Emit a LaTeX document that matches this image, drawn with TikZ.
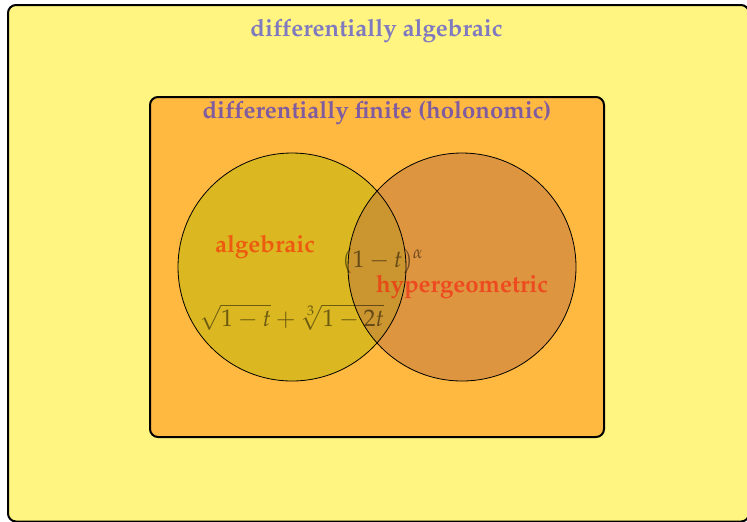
\documentclass[tikz,border=0pt]{standalone}
\usepackage[T1]{fontenc}
\usepackage{mathpazo}
\usetikzlibrary{positioning}

\definecolor{dalgfill}{RGB}{255,245,128}
\definecolor{dfinfill}{RGB}{255,184,64}
\definecolor{algfill}{RGB}{185,184,4}
\definecolor{hypfill}{RGB}{189,116,64}

\begin{document}
\begin{tikzpicture}[
    x=0.5pt, y=-0.5pt,
    classbox/.style={rectangle, draw, line width=1pt, rounded corners=4pt, inner sep=0pt},
    setfill/.style={circle, inner sep=0pt, minimum size=114pt, fill opacity=0.5},
    setline/.style={circle, draw, thin, inner sep=0pt, minimum size=114pt},
    classname/.style={font=\large\bfseries, text=blue, text opacity=0.5, anchor=base},
    setname/.style={font=\large\bfseries, text=red, text opacity=0.5, anchor=base},
    example/.style={font=\large, text=black, text opacity=0.5, anchor=base}
]
\useasboundingbox (0,0) rectangle (747,521);

% classes
\node[classbox, fill=dalgfill, minimum width=370.5pt, minimum height=258.25pt] (dalg) at (378.5,263.25) {};
\node[classbox, fill=dfinfill, minimum width=227pt, minimum height=170pt] (dfin) at (377,267) {};

% the two sets
\node[setfill, fill=algfill] (alg) at (292,267) {};
\node[setfill, fill=hypfill] (hyp) at (462,267) {};
\node[setline] (algline) at (alg) {};
\node[setline] (hypline) at (hyp) {};

% names
\node[classname] (dalgname) at ([xshift=-1pt, yshift=-16pt]dalg.north) {differentially algebraic};
\node[classname] (dfinname) at ([yshift=-11pt]dfin.north) {differentially finite (holonomic)};
\node[setname] (algname) at ([xshift=-13.5pt, yshift=7.5pt]alg.center) {algebraic};
\node[setname] (hypname) at ([yshift=-12.5pt]hyp.center) {hypergeometric};

% examples
\node[example] (both) at (383,267) {$(1-t)^\alpha$};
\node[example] (roots) at ([yshift=-29.5pt]alg.center) {$\sqrt{1-t}+\sqrt[3]{1-2t}$};

\end{tikzpicture}
\end{document}
